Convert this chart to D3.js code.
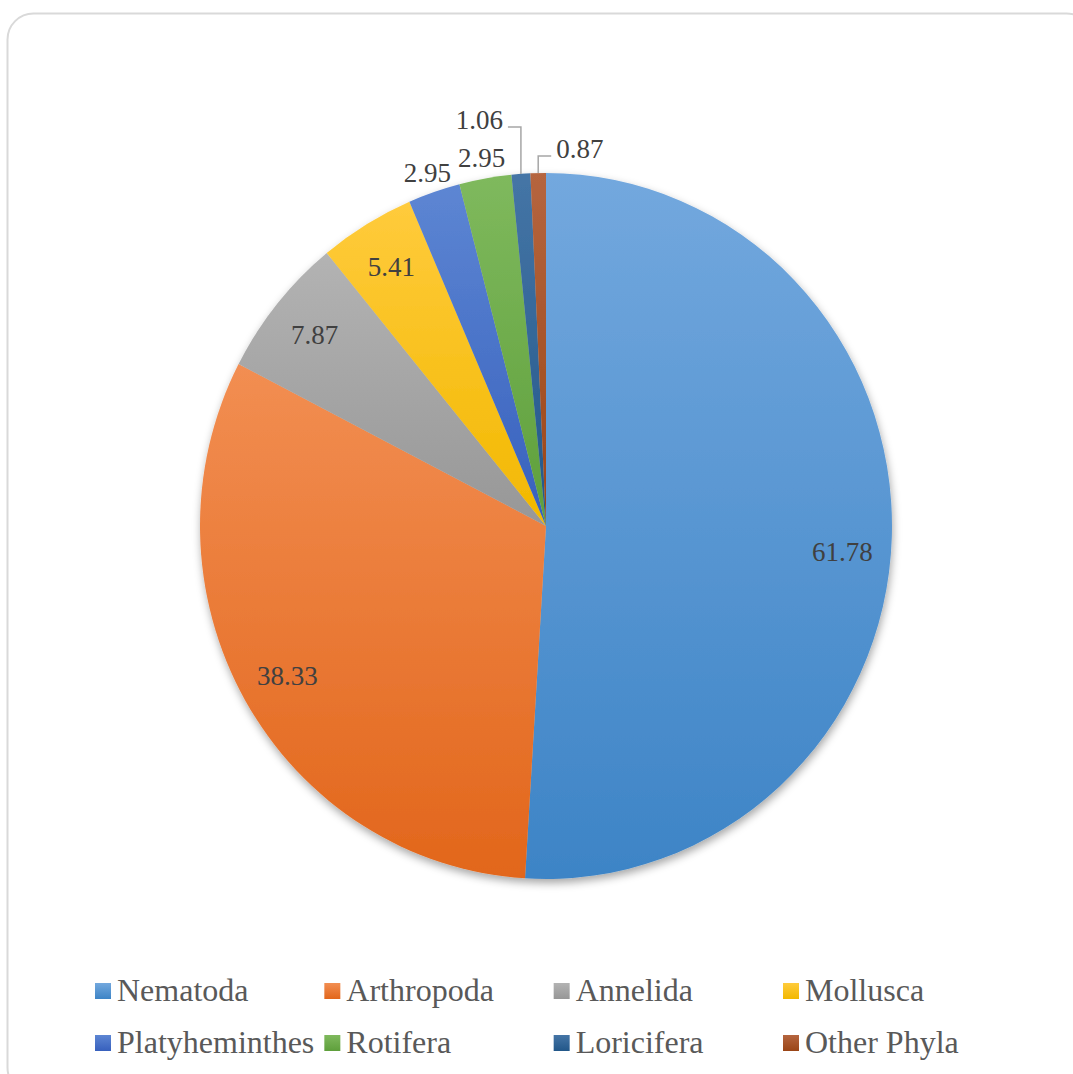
<!DOCTYPE html>
<html>
<head>
<meta charset="utf-8">
<script src="https://cdn.jsdelivr.net/npm/d3@7"></script>
<style>
  body { margin: 0; background: #fff; }
</style>
</head>
<body>
<div class="canvas"></div>
<script>
// chart data
const phyla = ['Nematoda', 'Arthropoda', 'Annelida', 'Mollusca',
               'Platyheminthes', 'Rotifera', 'Loricifera', 'Other Phyla'];
const shares = [61.78, 38.33, 7.87, 5.41, 2.95, 2.95, 1.06, 0.87];
const shareLabels = ['61.78', '38.33', '7.87', '5.41', '2.95', '2.95', '1.06', '0.87'];

// colours: light (top) / dark (bottom) of each slice gradient
const topColors = ['#73a8de', '#f28e52', '#b3b3b3', '#ffcb3c', '#5d86d3', '#7fb95d', '#4575a6', '#b5653f'];
const bottomColors = ['#3d84c6', '#e2661b', '#979797', '#f2b800', '#3760bd', '#5e9f3b', '#225789', '#9a4516'];

//---------------------------
const prop = {
    width: 1073,
    height: 1074,
    cx: 546,
    cy: 526,
    rx: 346,
    ry: 353,
    font: '"Liberation Serif", "Times New Roman", Times, "DejaVu Serif", serif',
    labelColor: '#404040',
    legendColor: '#595959'
};

// where each label goes: 'in' at a fraction of the radius, 'out' just beyond the rim,
// 'leader' with an elbow line rising above the rim
const labelMode = ['in', 'in', 'in', 'in', 'out', 'out', 'leader', 'leader'];
const leaderRise = {6: 47, 7: 17};
// the big slice label sits a bit below its mid angle (best fit)
const labelAngleShift = {0: 0.055};

const svg = d3.select('.canvas').append('svg')
    .attr('width', prop.width)
    .attr('height', prop.height)
    .attr('font-family', prop.font);

const defs = svg.append('defs');

phyla.forEach((p, i) => {
    const g = defs.append('linearGradient')
        .attr('id', 'grad' + i)
        .attr('x1', 0).attr('y1', 0).attr('x2', 0).attr('y2', 1);
    g.append('stop').attr('offset', '0%').attr('stop-color', topColors[i]);
    g.append('stop').attr('offset', '100%').attr('stop-color', bottomColors[i]);
});

const shadow = defs.append('filter').attr('id', 'shadow')
    .attr('x', '-10%').attr('y', '-10%').attr('width', '120%').attr('height', '120%');
shadow.append('feDropShadow')
    .attr('dx', 1).attr('dy', 4).attr('stdDeviation', 4)
    .attr('flood-color', '#000').attr('flood-opacity', 0.35);

// chart frame
svg.append('rect')
    .attr('x', 7.5).attr('y', 13.5)
    .attr('width', 1085).attr('height', 1080)
    .attr('rx', 26)
    .attr('fill', '#fff')
    .attr('stroke', '#d9d9d9')
    .attr('stroke-width', 2);

// pie
const pie = d3.pie().sort(null).value(d => d)
    .startAngle(0).endAngle(2 * Math.PI);
const arcs = pie(shares);

const arc = d3.arc().innerRadius(0).outerRadius(prop.rx);

const pieGroup = svg.append('g')
    .attr('transform', `translate(${prop.cx}, ${prop.cy}) scale(1, ${prop.ry / prop.rx})`)
    .attr('filter', 'url(#shadow)');

pieGroup.selectAll('path')
    .data(arcs)
    .enter()
    .append('path')
    .attr('d', arc)
    .attr('fill', (d, i) => `url(#grad${i})`);

// point on the (slightly elliptical) pie at angle a, fraction k of radius
const onPie = (a, k) => [prop.cx + k * prop.rx * Math.sin(a), prop.cy - k * prop.ry * Math.cos(a)];
const midAngle = d => (d.startAngle + d.endAngle) / 2;

const labels = svg.append('g')
    .attr('font-size', 27)
    .attr('fill', prop.labelColor);

arcs.forEach((d, i) => {
    const a = midAngle(d) + (labelAngleShift[i] || 0);
    if (labelMode[i] === 'in') {
        const [x, y] = onPie(a, 0.86);
        labels.append('text')
            .attr('x', x).attr('y', y).attr('dy', '0.35em')
            .attr('text-anchor', 'middle')
            .text(shareLabels[i]);
    } else if (labelMode[i] === 'out') {
        const [x, y] = onPie(a, 1);
        const off = 21;
        labels.append('text')
            .attr('x', x + off * Math.sin(a)).attr('y', y - off * Math.cos(a)).attr('dy', '0.35em')
            .attr('text-anchor', 'middle')
            .text(shareLabels[i]);
    } else {
        const [x, y] = onPie(a, 1);
        const ey = y - leaderRise[i];
        const dir = Math.sin(a) < -0.05 ? -1 : 1; // left of top goes left
        const ex = x + dir * 13;
        svg.append('path')
            .attr('d', `M${x},${y}V${ey}H${ex}`)
            .attr('fill', 'none')
            .attr('stroke', '#a6a6a6')
            .attr('stroke-width', 1.5);
        labels.append('text')
            .attr('x', ex + dir * 5).attr('y', ey + 2)
            .attr('text-anchor', dir < 0 ? 'end' : 'start')
            .text(shareLabels[i]);
    }
});

// legend: 4 columns, 2 rows
const colX = d3.scalePoint().domain([0, 1, 2, 3]).range([95, 783]);
const rowY = d3.scalePoint().domain([0, 1]).range([991, 1043]);

const legend = svg.append('g').selectAll('g')
    .data(phyla)
    .enter()
    .append('g')
    .attr('transform', (d, i) => `translate(${colX(i % 4)}, ${rowY(Math.floor(i / 4))})`);

legend.append('rect')
    .attr('x', 0).attr('y', -8)
    .attr('width', 16).attr('height', 16)
    .attr('fill', (d, i) => `url(#grad${i})`);

legend.append('text')
    .attr('x', 22).attr('y', 0).attr('dy', '0.31em')
    .attr('font-size', 32)
    .attr('fill', prop.legendColor)
    .text(d => d);
</script>
</body>
</html>
